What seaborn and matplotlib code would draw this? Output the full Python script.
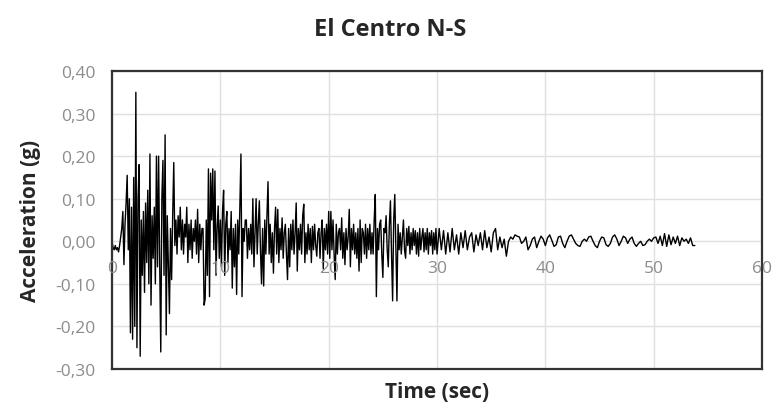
import numpy as np
import pandas as pd
import matplotlib
matplotlib.use("Agg")
import matplotlib.pyplot as plt
import seaborn as sns

# Strong-motion part of the record, 0-30 s, sampled every 0.1 s (g)
strong_dt = 0.1
strong_motion = [
    0.00, -0.015, -0.02, -0.01, -0.02, -0.015, -0.025, -0.01, 0.01, 0.03,
    0.07, -0.055, 0.04, 0.09, 0.155, -0.02, 0.10, -0.215, 0.08, -0.23,
    0.15, -0.20, 0.35, -0.25, 0.10, 0.18, -0.27, 0.05, -0.08, 0.07,
    -0.12, 0.09, -0.05, 0.12, -0.10, 0.205, -0.15, 0.06, -0.04, 0.08,
    -0.10, 0.20, -0.06, 0.20, -0.05, -0.26, 0.10, 0.19, -0.08, 0.25,
    -0.22, 0.06, -0.05, -0.17, 0.03, -0.09, 0.06, 0.185, -0.01, 0.05,
    -0.03, 0.06, 0.01, 0.08, -0.02, 0.05, -0.03, 0.04, 0.01, 0.08,
    -0.05, 0.04, -0.02, 0.05, -0.04, 0.03, 0.00, 0.05, -0.03, 0.075,
    -0.05, 0.04, -0.02, 0.03, 0.03, -0.15, -0.135, 0.05, -0.08, 0.17,
    -0.13, 0.16, 0.05, 0.17, -0.02, 0.165, -0.08, 0.03, 0.083, -0.04,
    0.05, -0.06, 0.07, 0.12, -0.08, 0.04, 0.07, -0.05, 0.03, -0.02,
    0.07, -0.11, 0.03, -0.06, 0.04, -0.125, 0.05, -0.03, 0.08, 0.205,
    -0.13, 0.03, 0.00, 0.05, 0.05, -0.04, 0.03, -0.02, 0.04, -0.03,
    0.10, -0.06, 0.02, 0.10, -0.03, 0.04, 0.095, -0.02, -0.10, 0.03,
    -0.105, 0.05, -0.03, 0.06, 0.14, -0.03, 0.04, -0.05, 0.02, -0.075,
    0.03, 0.08, -0.03, 0.075, -0.05, 0.03, -0.02, 0.055, -0.04, 0.02,
    0.04, -0.03, -0.09, 0.03, -0.06, 0.04, -0.02, 0.05, -0.03, 0.02,
    0.09, -0.07, 0.03, -0.02, 0.04, -0.03, 0.06, 0.087, -0.05, 0.02,
    -0.03, 0.04, -0.02, 0.03, -0.05, 0.035, -0.02, 0.04, -0.01, -0.035,
    0.02, 0.03, -0.04, 0.02, 0.05, -0.065, 0.03, -0.02, 0.04, -0.03,
    0.07, -0.04, 0.07, -0.02, 0.05, -0.03, -0.09, 0.04, -0.03, 0.02,
    0.03, -0.02, 0.055, -0.04, 0.02, -0.055, 0.03, -0.02, 0.01, 0.075,
    -0.06, 0.03, -0.02, 0.04, -0.03, 0.02, -0.04, 0.03, -0.07, 0.05,
    -0.05, 0.03, 0.02, -0.03, 0.04, -0.04, 0.03, -0.02, 0.04, -0.03,
    0.02, -0.03, 0.05, 0.11, -0.13, 0.03, -0.02, 0.04, 0.05, -0.03,
    -0.085, 0.03, 0.02, 0.06, -0.02, -0.06, 0.04, 0.095, -0.03, -0.14,
    0.05, 0.11, -0.02, -0.14, 0.04, -0.02, 0.02, -0.03, 0.01, 0.05,
    -0.02, -0.04, 0.03, -0.01, 0.035, -0.03, 0.02, -0.02, 0.03, -0.01,
    0.025, -0.03, 0.02, -0.035, 0.03, -0.02, 0.01, 0.03, -0.025, 0.02,
    -0.02, 0.03, -0.03, 0.02, -0.01, 0.025, -0.03, 0.02, -0.02, 0.03,
]

# Coda, 30-54 s, sampled every 0.2 s (g)
coda_start = 30.0
coda_dt = 0.2
coda = [
    -0.03, 0.03, -0.02, 0.025, -0.03,
    0.02, -0.025, 0.03, -0.02, 0.015,
    -0.03, 0.02, -0.015, 0.025, -0.02,
    0.01, 0.02, -0.025, 0.015, -0.01,
    0.02, -0.02, 0.025, -0.015, 0.01,
    -0.025, 0.02, 0.03, -0.02, 0.01,
    -0.015, 0.005, -0.035, 0.0, 0.01,
    0.005, 0.015, 0.012, 0.01, -0.005,
    0.0, 0.01, -0.02, -0.01, 0.005,
    0.01, -0.015, 0.0, 0.012, 0.005,
    -0.01, 0.008, 0.015, 0.002, -0.012,
    -0.008, 0.01, 0.012, -0.005, -0.015,
    0.0, 0.012, 0.015, 0.005, -0.005,
    -0.01, -0.012, 0.0, 0.005, 0.0,
    0.01, 0.012, 0.0, -0.01, -0.015,
    0.0, 0.01, 0.008, -0.008, -0.012,
    -0.005, 0.01, 0.015, 0.005, -0.01,
    0.0, 0.012, 0.008, -0.005, 0.005,
    0.01, -0.005, -0.012, -0.005, 0.0,
    -0.01, -0.008, 0.0, 0.005, 0.0,
    0.008, 0.01, -0.005, 0.012, -0.01,
    0.018, -0.012, 0.015, -0.008, 0.01,
    -0.005, 0.012, -0.01, 0.008, 0.0,
    0.005, -0.005, 0.008, -0.01, -0.01,
]

x_ticks = [0, 10, 20, 30, 40, 50, 60]
y_ticks = [-0.30, -0.20, -0.10, 0.00, 0.10, 0.20, 0.30, 0.40]

t_strong = np.arange(len(strong_motion)) * strong_dt
t_coda = coda_start + np.arange(len(coda)) * coda_dt
df = pd.DataFrame({
    "time": np.concatenate([t_strong, t_coda]),
    "acc": np.concatenate([strong_motion, coda]),
})

sns.set_theme(style="white")
plt.rcParams["font.family"] = ["Open Sans", "DejaVu Sans"]

fig = plt.figure(figsize=(7.72, 4.10), dpi=100)
ax = fig.add_axes([0.1451, 0.0976, 0.842, 0.7268])

sns.lineplot(data=df, x="time", y="acc", estimator=None, sort=False,
             color="black", linewidth=1.0, ax=ax)

ax.set_xlim(x_ticks[0], x_ticks[-1])
ax.set_ylim(y_ticks[0], y_ticks[-1])
ax.set_xticks(x_ticks)
ax.set_yticks(y_ticks)
ax.grid(True, color="#e0e0e0", linewidth=1.0)
ax.set_axisbelow(True)

grey = "#8c8c8c"
ax.set_yticklabels([f"{v:.2f}".replace(".", ",") for v in y_ticks],
                   color=grey, fontsize=12.5)
ax.tick_params(axis="y", length=0, pad=12)
ax.tick_params(axis="x", length=0, labelbottom=False)

# x tick labels sit just below the zero line
for xv in x_ticks:
    ax.annotate(str(xv), (xv, 0), xytext=(0, -19), textcoords="offset points",
                ha="center", va="center", color=grey, fontsize=12.5,
                annotation_clip=False)

for side in ["left", "bottom", "top", "right"]:
    ax.spines[side].set_visible(True)
    ax.spines[side].set_linewidth(1.6)
    ax.spines[side].set_color("#333333")

ax.set_xlabel("Time (sec)", fontsize=15, fontweight="bold", labelpad=9)
ax.set_ylabel("Acceleration (g)", fontsize=15, fontweight="bold", labelpad=10)
fig.text(0.505, 0.928, "El Centro N-S", ha="center", va="center",
         fontsize=17, fontweight="bold")

fig.savefig("out.png", dpi=100)
